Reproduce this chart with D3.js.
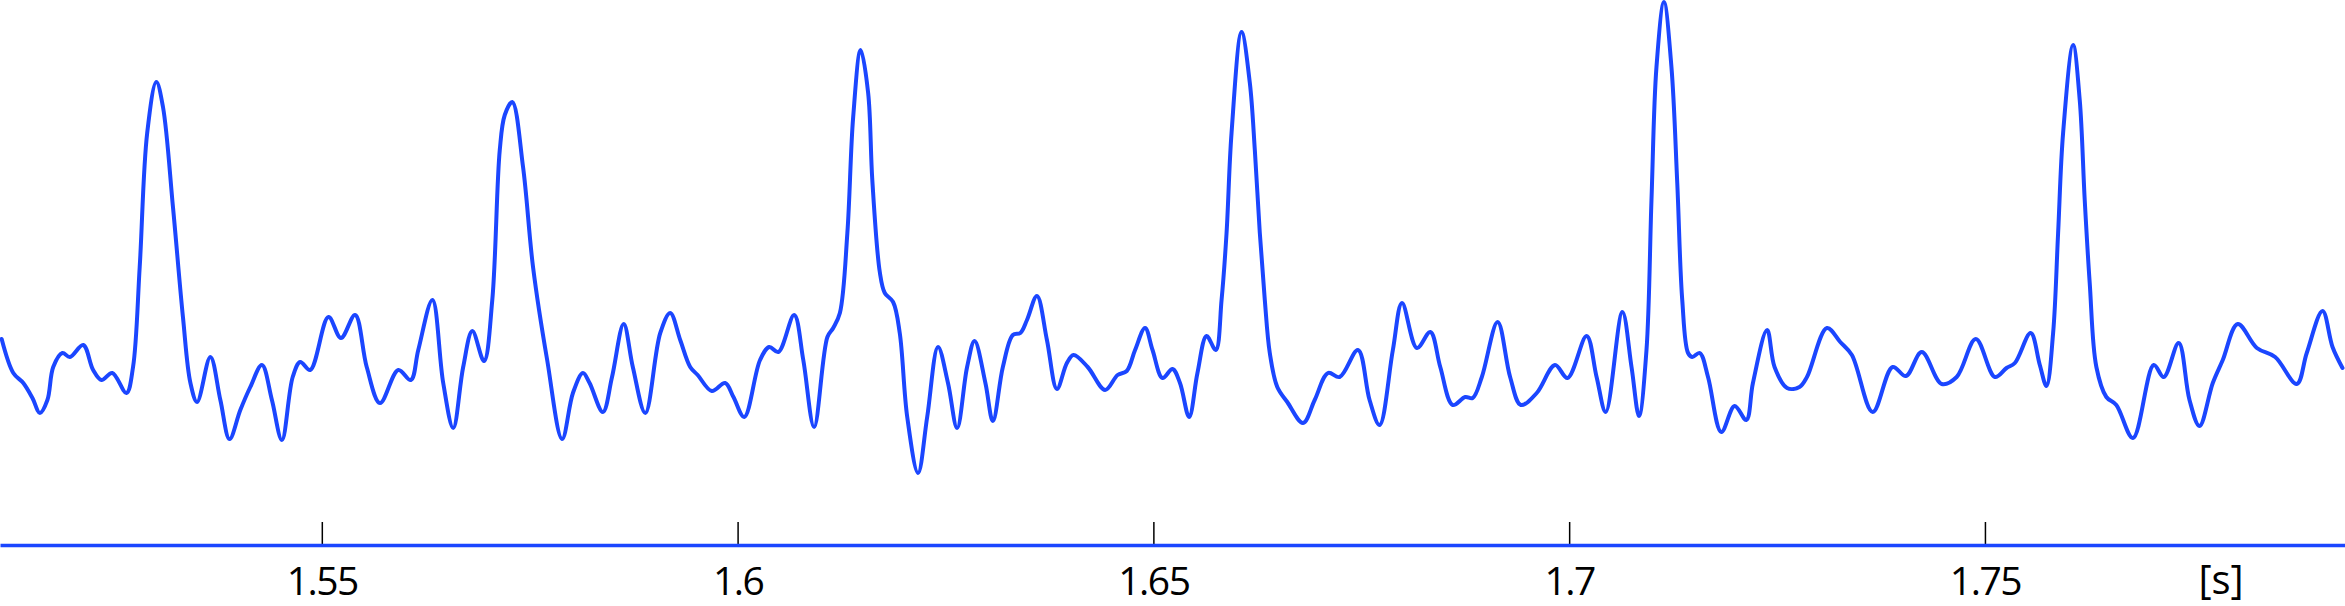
<!DOCTYPE html>
<html>
<head>
<meta charset="utf-8">
<script src="https://cdn.jsdelivr.net/npm/d3@7"></script>
<style>
  html, body { margin: 0; padding: 0; background: #fff; }
  svg { display: block; }
</style>
</head>
<body>
<svg id="chart" width="2345" height="606"></svg>
<script>
// time in seconds
const times = [1.5115,1.5129,1.5141,1.5152,1.5161,1.5170,1.5177,1.5188,1.5197,1.5213,
1.5225,1.5235,1.5248,1.5265,1.5273,1.5281,1.5290,1.5301,1.5309,1.5321,
1.5333,1.5342,1.5350,1.5366,1.5378,1.5389,1.5402,1.5414,1.5428,1.5440,
1.5452,1.5465,1.5474,1.5486,1.5508,1.5523,1.5540,1.5554,1.5570,1.5592,
1.5607,1.5616,1.5633,1.5646,1.5658,1.5670,1.5681,1.5695,1.5705,1.5714,1.5720,
1.5729,1.5742,1.5754,1.5771,1.5789,1.5802,1.5814,1.5822,1.5838,1.5849,
1.5863,1.5874,1.5889,1.5907,1.5919,1.5931,1.5943,1.5952,1.5969,1.5985,
1.5995,1.6008,1.6027,1.6038,1.6049,1.6068,1.6079,1.6092,1.6108,1.6115,
1.6123,1.6132,1.6139,1.6148,1.6157,1.6162,1.6171,1.6177,1.6187,1.6195,
1.6204,1.6217,1.6228,1.6241,1.6253,1.6264,1.6276,1.6285,1.6298,1.6307,
1.6319,1.6331,1.6340,1.6348,1.6360,1.6372,1.6384,1.6396,1.6404,1.6421,
1.6442,1.6457,1.6468,1.6478,1.6490,1.6499,1.6511,1.6523,1.6532,1.6543,
1.6553,1.6564,1.6575,1.6582,1.6588,1.6594,1.6606,1.6616,1.6622,1.6628,
1.6634,1.6640,1.6649,1.6661,1.6680,1.6694,1.6710,1.6724,1.6746,1.6760,
1.6772,1.6788,1.6799,1.6817,1.6833,1.6845,1.6860,1.6875,1.6884,1.6895,
1.6914,1.6929,1.6942,1.6961,1.6983,1.6998,1.7021,1.7033,1.7044,1.7064,
1.7075,1.7084,1.7093,1.7099,1.7105,1.7114,1.7123,1.7130,1.7136,1.7143,
1.7148,1.7157,1.7167,1.7183,1.7199,1.7213,1.7221,1.7238,1.7247,1.7262,
1.7277,1.7286,1.7310,1.7326,1.7340,1.7365,1.7389,1.7405,1.7424,1.7448,
1.7466,1.7489,1.7512,1.7526,1.7536,1.7555,1.7566,1.7574,1.7582,1.7588,
1.7594,1.7606,1.7614,1.7620,1.7626,1.7634,1.7646,1.7658,1.7678,1.7703,
1.7715,1.7733,1.7746,1.7758,1.7774,1.7786,1.7804,1.7827,1.7849,1.7875,
1.7887,1.7906,1.7918,1.7930];

// signal amplitude (arbitrary units)
const values = [0.41,0.07,-0.03,-0.18,-0.33,-0.20,0.13,0.27,0.23,0.35,
0.10,0.00,0.07,-0.13,0.13,1.13,2.47,2.98,2.73,1.73,
0.63,-0.03,-0.22,0.23,-0.20,-0.59,-0.30,-0.07,0.15,-0.20,
-0.60,0.03,0.18,0.10,0.63,0.42,0.65,0.13,-0.23,0.10,
0.00,0.30,0.80,-0.03,-0.48,0.13,0.49,0.19,0.80,2.30,2.65,
2.78,2.13,1.13,0.20,-0.59,-0.13,0.07,-0.03,-0.32,0.03,
0.56,0.13,-0.33,0.47,0.67,0.40,0.13,0.05,-0.11,-0.03,
-0.17,-0.37,0.20,0.33,0.28,0.65,0.20,-0.47,0.43,0.52,
0.67,1.47,2.63,3.30,2.87,2.00,1.08,0.87,0.78,0.47,
-0.37,-0.93,-0.37,0.33,-0.03,-0.48,0.13,0.39,-0.03,-0.41,
0.13,0.45,0.47,0.60,0.84,0.40,-0.09,0.17,0.25,0.13,
-0.10,0.05,0.09,0.30,0.52,0.30,0.02,0.11,-0.03,-0.37,
0.07,0.44,0.30,0.80,1.47,2.47,3.48,2.97,2.30,1.47,
0.80,0.27,-0.07,-0.22,-0.43,-0.20,0.07,0.03,0.30,-0.20,
-0.45,0.30,0.77,0.32,0.48,0.13,-0.25,-0.17,-0.18,0.03,
0.58,0.03,-0.25,-0.13,0.15,0.02,0.44,0.03,-0.32,0.68,
0.13,-0.36,0.30,1.80,3.13,3.78,3.13,1.97,0.80,0.27,
0.23,0.27,0.03,-0.52,-0.26,-0.40,-0.03,0.50,0.13,-0.08,
-0.07,0.03,0.52,0.38,0.25,-0.32,0.13,0.04,0.28,-0.04,
0.03,0.41,0.03,0.12,0.17,0.47,0.15,-0.06,0.47,1.47,
2.47,3.35,2.80,1.80,0.97,0.13,-0.17,-0.25,-0.58,0.15,
0.03,0.37,-0.20,-0.46,-0.03,0.20,0.56,0.32,0.23,-0.04,
0.27,0.69,0.33,0.12];

const tickValues = [1.55, 1.6, 1.65, 1.7, 1.75];
const tickLabels = ["1.55", "1.6", "1.65", "1.7", "1.75"];
const unitLabel = "[s]";

const W = 2345, H = 606;
const BLUE = "#1b46ff";
const FONT = "'Open Sans', 'Noto Sans', sans-serif";

const svg = d3.select("#chart");

const x = d3.scaleLinear().domain([1.5113, 1.7933]).range([0, W]);
const y = d3.scaleLinear().domain([-1.65, 3.8]).range([545, 0]);

const data = times.map((t, i) => ({ t, v: values[i] }));

const line = d3.line()
  .x(d => x(d.t))
  .y(d => y(d.v))
  .curve(d3.curveCatmullRom.alpha(0.5));

svg.append("path")
  .datum(data)
  .attr("fill", "none")
  .attr("stroke", BLUE)
  .attr("stroke-width", 4)
  .attr("stroke-linejoin", "round")
  .attr("stroke-linecap", "round")
  .attr("d", line);

const axis = d3.axisBottom(x)
  .tickValues(tickValues)
  .tickFormat((d, i) => tickLabels[i])
  .tickSizeInner(-23)
  .tickSizeOuter(0)
  .tickPadding(22);

const gx = svg.append("g")
  .attr("transform", `translate(0,${y.range()[0]})`)
  .call(axis);

gx.select(".domain")
  .attr("stroke", BLUE)
  .attr("stroke-width", 3.5);

gx.selectAll(".tick line")
  .attr("stroke", "#000")
  .attr("stroke-width", 1.5);

gx.selectAll(".tick text")
  .attr("fill", "#000")
  .style("font-family", FONT)
  .style("font-size", "39px")
  .style("letter-spacing", "-1.5px");

gx.select(".domain").raise();

svg.append("text")
  .attr("x", 2221)
  .attr("y", 594)
  .attr("text-anchor", "middle")
  .attr("fill", "#000")
  .style("font-family", FONT)
  .style("font-size", "40px")
  .text(unitLabel);
</script>
</body>
</html>
